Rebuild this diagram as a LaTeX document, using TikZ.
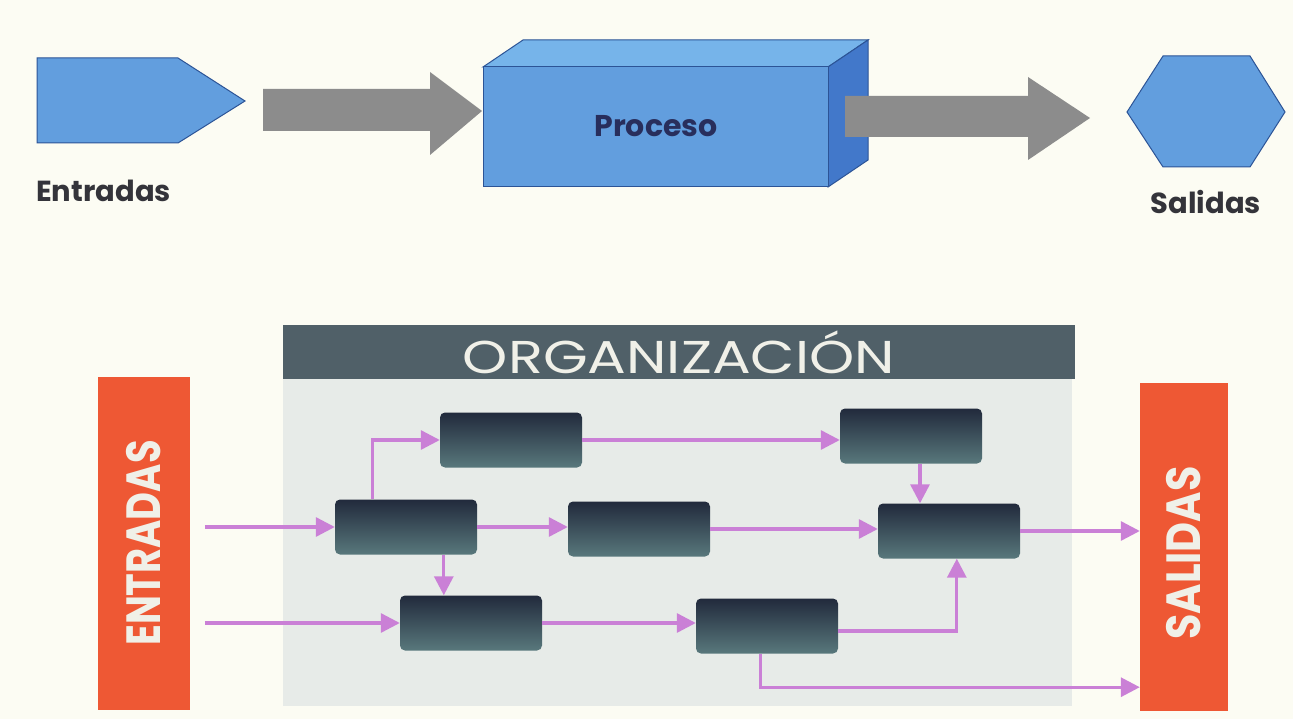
\documentclass[tikz,border=0pt]{standalone}
\usepackage{fontspec}
\setmainfont{Poppins}
\usetikzlibrary{arrows.meta,calc}
\definecolor{paper}{RGB}{252,252,243}
\definecolor{panel}{RGB}{231,235,232}
\definecolor{skyface}{RGB}{98,158,222}
\definecolor{skytop}{RGB}{118,180,234}
\definecolor{skyside}{RGB}{66,120,202}
\definecolor{skyedge}{RGB}{44,84,150}
\definecolor{flowgray}{RGB}{140,140,140}
\definecolor{slate}{RGB}{80,96,104}
\definecolor{brick}{RGB}{238,88,52}
\definecolor{orchid}{RGB}{202,128,214}
\definecolor{boxdark}{RGB}{34,42,60}
\definecolor{boxlight}{RGB}{88,120,124}
\definecolor{ink}{RGB}{52,52,58}
\definecolor{navyink}{RGB}{40,46,92}
\definecolor{chalk}{RGB}{240,240,232}
\begin{document}
\begin{tikzpicture}[x=1pt,y=-1pt,
  blueshape/.style={draw=skyedge, line width=1pt, fill=skyface},
  grayflow/.style={fill=flowgray},
  caption/.style={font=\bfseries\fontsize{29}{32}\selectfont, text=ink, inner sep=0pt},
  unit/.style={rounded corners=5pt, minimum width=142pt, minimum height=55pt,
    top color=boxdark, bottom color=boxlight, inner sep=0pt},
  sidebar/.style={fill=brick, inner sep=0pt},
  sidetext/.style={text=chalk, font=\bfseries\fontsize{48}{52}\selectfont},
  link/.style={draw=orchid, line width=3.2pt,
    -{Triangle[length=19pt,width=19pt,fill=orchid]}}
]
\useasboundingbox (0,0) rectangle (1293,719);
\fill[paper] (0,0) rectangle (1293,719);

% ---------- input / process / output strip ----------
\draw[blueshape] (37,58) -- (178,58) -- (245,101) -- (178,143) -- (37,143) -- cycle;
\node[caption, anchor=west] (entLbl) at (36,191) {Entradas};

% first wide gray arrow
\fill[grayflow] (263,89) -- (430,89) -- (430,72) -- (482,111) -- (430,155)
  -- (430,131) -- (263,131) -- cycle;

% 3-D process block
\coordinate (fA) at (483,67);  \coordinate (fB) at (828,67);
\coordinate (fC) at (828,187); \coordinate (fD) at (483,187);
\coordinate (dz) at (40,-27);
\fill[skytop, draw=skyedge, line width=1pt]
  (fA) -- ($(fA)+(dz)$) -- ($(fB)+(dz)$) -- (fB) -- cycle;
\fill[skyside, draw=skyedge, line width=1pt]
  (fB) -- ($(fB)+(dz)$) -- ($(fC)+(dz)$) -- (fC) -- cycle;
\draw[blueshape] (fA) rectangle (fC);
\node[font=\bfseries\fontsize{30}{32}\selectfont, text=navyink] (proc) at (656,126) {Proceso};

% second wide gray arrow
\fill[grayflow] (845,96) -- (1028,96) -- (1028,77) -- (1090,118) -- (1028,160)
  -- (1028,137) -- (845,137) -- cycle;

% output hexagon
\draw[blueshape] (1127,112) -- (1163,56) -- (1250,56) -- (1285,112)
  -- (1250,167) -- (1163,167) -- cycle;
\node[caption] (salLbl) at (1206,202) {Salidas};

% ---------- organisation diagram ----------
\fill[panel] (283,378) rectangle (1072,706);
\node[fill=slate, minimum width=792pt, minimum height=54pt, inner sep=0pt,
  text=chalk, font=\fontsize{46}{50}\selectfont] (org) at (679,352)
  {\scalebox{1.25}[1]{ORGANIZACIÓN}};

\node[sidebar, minimum width=92pt, minimum height=333pt] (ent) at (144,543) {};
\node[sidetext, rotate=90] at (ent.center) {\scalebox{0.8}[1]{ENTRADAS}};
\node[sidebar, minimum width=88pt, minimum height=328pt] (sal) at (1184,547) {};
\node[sidetext, rotate=90] at ($(sal.center)+(0,6)$) {\scalebox{0.86}[1]{SALIDAS}};

\node[unit] (b1) at (511,440) {};
\node[unit] (b2) at (406,527) {};
\node[unit] (b3) at (471,623) {};
\node[unit] (b4) at (639,529) {};
\node[unit] (b5) at (911,436) {};
\node[unit] (b6) at (949,531) {};
\node[unit] (b7) at (767,626) {};

% loose input ends and branch points
\path (b2.west) ++(-130,0) coordinate (in1);
\path (b3.west) ++(-195,0) coordinate (in2);
\path (b2.north west) ++(38,0) coordinate (up1);
\path (b2.south west) ++(109,0) coordinate (dn1);
\path (b5.south) ++(9,0) coordinate (dn2);
\path (b7.east) ++(0,5) coordinate (out7);
\path (b6.south west) ++(79,0) coordinate (up6);
\path (b7.south west) ++(65,0) coordinate (dn7);
\path (sal.south west) ++(0,-24) coordinate (sal2);

\draw[link] (in1) -- (b2.west);
\draw[link] (in2) -- (b3.west);
\draw[link] (up1) |- (b1.west);
\draw[link] (dn1) -- (dn1 |- b3.north);
\draw[link] (b2.east) -- (b2.east -| b4.west);
\draw[link] (b1.east) -- (b1.east -| b5.west);
\draw[link] (b4.east) -- (b4.east -| b6.west);
\draw[link] (dn2) -- (dn2 |- b6.north);
\draw[link] (b3.east) -- (b3.east -| b7.west);
\draw[link] (out7) -| (up6);
\draw[link] (b6.east) -- (b6.east -| sal.west);
\draw[link] (dn7) |- (sal2);
\end{tikzpicture}
\end{document}
